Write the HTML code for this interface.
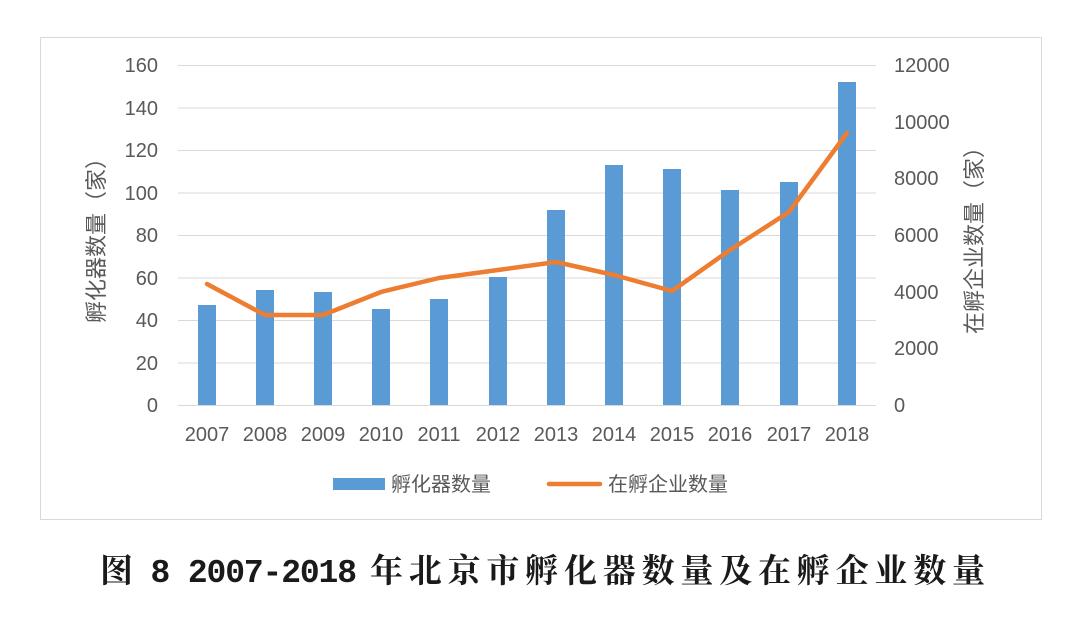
<!DOCTYPE html>
<html><head><meta charset="utf-8"><style>
body{margin:0;background:#fff;}
text{font-family:"Liberation Sans","Noto Sans CJK SC",sans-serif;fill:#595959;}
</style></head><body>
<svg width="1080" height="615" xmlns="http://www.w3.org/2000/svg">
<rect x="0" y="0" width="1080" height="615" fill="#fff"/>
<rect x="40.5" y="37.5" width="1001" height="482" fill="#fff" stroke="#d9d9d9" stroke-width="1"/>
<g stroke="#d9d9d9" stroke-width="1">
<line x1="178" x2="876" y1="65.5" y2="65.5"/>
<line x1="178" x2="876" y1="108" y2="108"/>
<line x1="178" x2="876" y1="150.5" y2="150.5"/>
<line x1="178" x2="876" y1="193" y2="193"/>
<line x1="178" x2="876" y1="235.5" y2="235.5"/>
<line x1="178" x2="876" y1="278" y2="278"/>
<line x1="178" x2="876" y1="320.5" y2="320.5"/>
<line x1="178" x2="876" y1="363" y2="363"/>
<line x1="178" x2="876" y1="405.5" y2="405.5"/>
</g>
<g font-size="20" text-anchor="end">
<text x="158" y="72">160</text><text x="158" y="115">140</text><text x="158" y="157">120</text>
<text x="158" y="200">100</text><text x="158" y="242">80</text><text x="158" y="285">60</text>
<text x="158" y="327">40</text><text x="158" y="370">20</text><text x="158" y="412">0</text>
</g>
<g font-size="20" text-anchor="start">
<text x="894" y="72">12000</text><text x="894" y="129">10000</text><text x="894" y="185">8000</text>
<text x="894" y="242">6000</text><text x="894" y="299">4000</text><text x="894" y="355">2000</text>
<text x="894" y="412">0</text>
</g>
<text transform="translate(104,235) rotate(-90)" font-size="22" text-anchor="middle">孵化器数量（家）</text>
<text transform="translate(982,235) rotate(-90)" font-size="22" text-anchor="middle">在孵企业数量（家）</text>
<g fill="#5b9bd5">
<rect x="198" y="305" width="18" height="100"/>
<rect x="256" y="290" width="18" height="115"/>
<rect x="314" y="292" width="18" height="113"/>
<rect x="372" y="309" width="18" height="96"/>
<rect x="430" y="299" width="18" height="106"/>
<rect x="489" y="277" width="18" height="128"/>
<rect x="547" y="210" width="18" height="195"/>
<rect x="605" y="165" width="18" height="240"/>
<rect x="663" y="169" width="18" height="236"/>
<rect x="721" y="190" width="18" height="215"/>
<rect x="780" y="182" width="18" height="223"/>
<rect x="838" y="82" width="18" height="323"/>
</g>
<polyline fill="none" stroke="#ed7d31" stroke-width="4.5" stroke-linejoin="round" stroke-linecap="round"
points="207,284 265,315 323,315 381,292 439,278 498,270 556,262 614,275 672,291 730,250 789,212 847,133"/>
<g font-size="20" text-anchor="middle">
<text x="207" y="441">2007</text><text x="265" y="441">2008</text><text x="323" y="441">2009</text>
<text x="381" y="441">2010</text><text x="439" y="441">2011</text><text x="498" y="441">2012</text>
<text x="556" y="441">2013</text><text x="614" y="441">2014</text><text x="672" y="441">2015</text>
<text x="730" y="441">2016</text><text x="789" y="441">2017</text><text x="847" y="441">2018</text>
</g>
<rect x="333" y="478" width="52" height="12" fill="#5b9bd5"/>
<text x="391" y="491" font-size="20">孵化器数量</text>
<line x1="549" x2="600" y1="484" y2="484" stroke="#ed7d31" stroke-width="4.5" stroke-linecap="round"/>
<text x="608" y="491" font-size="20">在孵企业数量</text>
<g font-size="33" font-weight="bold" style="font-family:'Liberation Mono','Noto Serif CJK SC',serif;">
<text x="100" y="582" textLength="257" lengthAdjust="spacing" style="fill:#1a1a1a;font-family:'Liberation Mono','Noto Serif CJK SC',serif;">图 8 2007-2018</text>
<text x="370" y="582" textLength="615" lengthAdjust="spacing" style="fill:#1a1a1a;font-family:'Noto Serif CJK SC',serif;">年北京市孵化器数量及在孵企业数量</text>
</g>
</svg>
</body></html>
